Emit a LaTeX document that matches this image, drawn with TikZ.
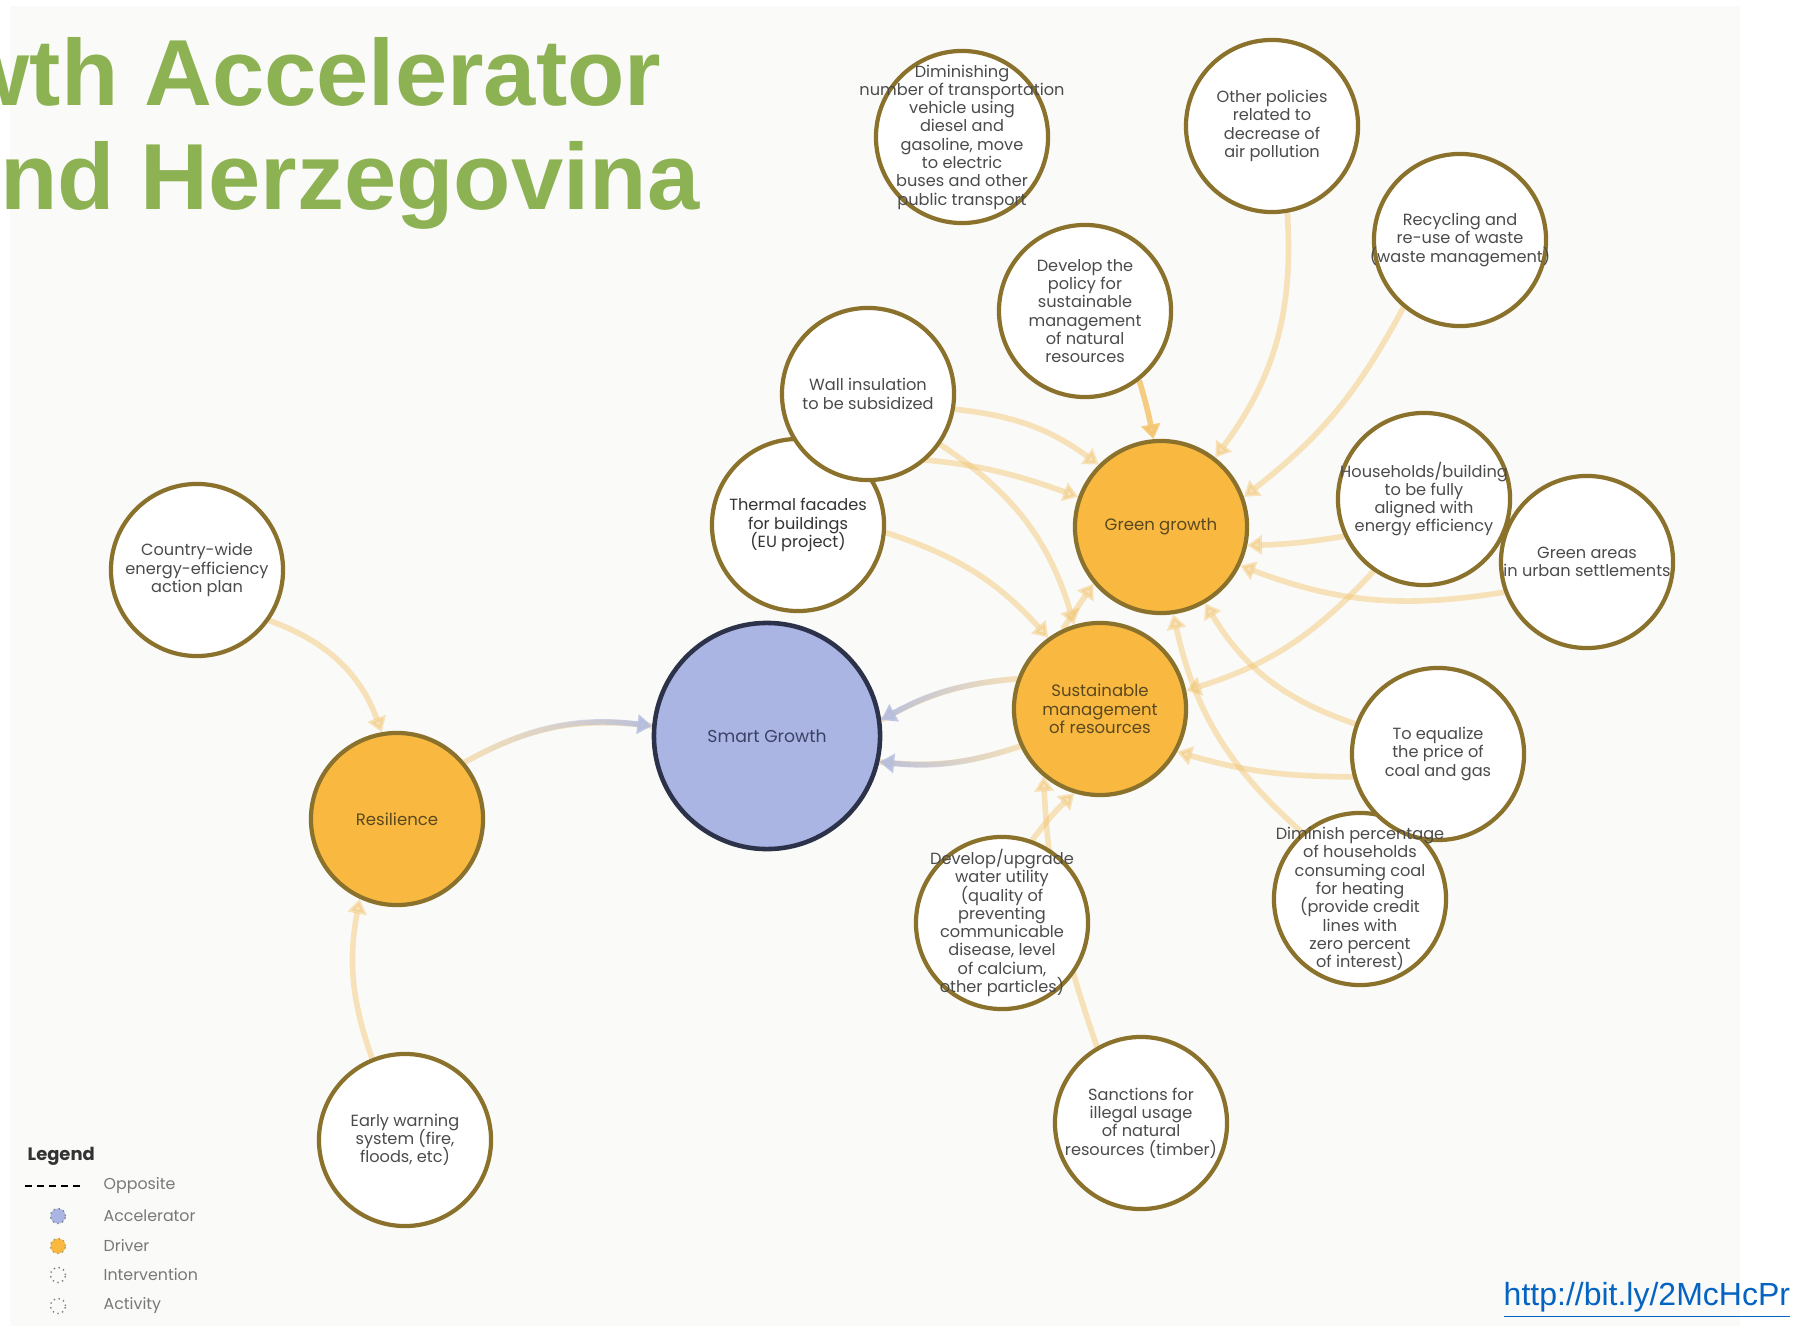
\documentclass[tikz,border=0pt]{standalone}
\usepackage{fontspec}
\setmainfont{Poppins}
\newfontfamily\titlefont{Liberation Sans}
\usetikzlibrary{arrows.meta,fadings}
\newcommand\tightlines{\lineskiplimit=-20pt\relax}
\definecolor{panelbg}{RGB}{250,250,248}
\definecolor{titlegreen}{RGB}{141,178,84}
\definecolor{ringc}{RGB}{139,114,44}
\definecolor{drvfill}{RGB}{249,185,64}
\definecolor{accfill}{RGB}{170,181,228}
\definecolor{accring}{RGB}{45,50,75}
\definecolor{conncol}{RGB}{243,196,110}
\definecolor{blueconn}{RGB}{180,188,222}
\definecolor{txtc}{RGB}{75,75,75}
\definecolor{drvtxt}{RGB}{90,72,30}
\definecolor{acctxt}{RGB}{60,66,100}
\definecolor{urlc}{RGB}{5,99,193}
\definecolor{legtxt}{RGB}{120,120,120}
\definecolor{legtitle}{RGB}{51,51,51}
\pgfdeclarelayer{panel}
\pgfdeclarelayer{edges}
\pgfsetlayers{panel,edges,main}
\tikzset{
  ivn/.style={circle, draw=ringc, line width=1.2pt, fill=white, minimum size=1.72cm, inner sep=0pt},
  drv/.style={circle, draw=ringc, line width=1.2pt, fill=drvfill, minimum size=1.72cm, inner sep=0pt},
  acc/.style={circle, draw=accring, line width=1.3pt, fill=accfill, minimum size=2.26cm, inner sep=0pt},
  itxt/.style={align=center, text=txtc, font=\fontsize{4.6pt}{5.2pt}\selectfont\tightlines, inner sep=0pt},
  dtxt/.style={align=center, text=drvtxt, font=\fontsize{4.7pt}{5.3pt}\selectfont\tightlines, inner sep=0pt},
  atxt/.style={align=center, text=acctxt, font=\fontsize{4.9pt}{5.5pt}\selectfont, inner sep=0pt},
  conn/.style={draw=conncol, opacity=0.45, line width=1.6pt, -{Triangle[width=5.4pt,length=4.2pt]}},
  strongconn/.style={conn, opacity=0.85},
  bconn/.style={draw=blueconn, opacity=0.9, line width=1.6pt, -{Triangle[width=5.4pt,length=4.2pt]}},
  legtext/.style={anchor=west, text=legtxt, font=\fontsize{4.5pt}{5pt}\selectfont, inner sep=0pt},
  legdot/.style={circle, minimum size=0.15cm, inner sep=0pt, line width=0.4pt, densely dotted}
}
\begin{document}
\begin{tikzpicture}[x=0.01cm, y=-0.01cm]
\useasboundingbox (0,0) rectangle (1795,1334);
\begin{pgfonlayer}{panel}
  \fill[white] (0,0) rectangle (1795,1334);
  \fill[panelbg] (10,6) rectangle (1740,1326);
\end{pgfonlayer}

% title
\node[anchor=base east, inner sep=0pt, text=titlegreen, font=\titlefont\bfseries\fontsize{26.7pt}{30pt}\selectfont] (title1) at (662,106) {wth Accelerator};
\node[anchor=base east, inner sep=0pt, text=titlegreen, font=\titlefont\bfseries\fontsize{26.7pt}{30pt}\selectfont] (title2) at (700,210) {nd Herzegovina};

% nodes
\node[ivn] (dimin) at (962,137) {};
\node[ivn] (other) at (1272,126) {};
\node[ivn] (recyc) at (1460,240) {};
\node[ivn] (devpol) at (1085,311) {};
\node[ivn] (thermal) at (798,525) {};
\node[ivn] (wall) at (868,394) {};
\node[drv] (green) at (1161,527) {};
\node[ivn] (garea) at (1587,562) {};
\node[ivn] (house) at (1424,499) {};
\node[ivn] (country) at (197,570) {};
\node[acc] (smart) at (767,736) {};
\node[drv] (sust) at (1100,709) {};
\node[drv] (resil) at (397,819) {};
\node[ivn] (dimperc) at (1360,899) {};
\node[ivn] (equal) at (1438,754) {};
\node[ivn] (water) at (1002,923) {};
\node[ivn] (early) at (405,1140) {};
\node[ivn] (sanct) at (1141,1123) {};

% texts
\node[itxt] (dimin-t) at (dimin) {Diminishing\\number of transportation\\vehicle using\\diesel and\\gasoline, move\\to electric\\buses and other\\public transport};
\node[itxt] (other-t) at (other) {Other policies\\related to\\decrease of\\air pollution};
\node[itxt] (recyc-t) at (recyc) {Recycling and\\re-use of waste\\(waste management)};
\node[itxt] (devpol-t) at (devpol) {Develop the\\policy for\\sustainable\\management\\of natural\\resources};
\node[itxt] (wall-t) at (wall) {Wall insulation\\to be subsidized};
\node[itxt, text=black!80] (thermal-t) at (thermal) {Thermal facades\\for buildings\\(EU project)};
\node[dtxt] (green-t) at (green) {Green growth};
\node[itxt] (house-t) at (house) {Households/building\\to be fully\\aligned with\\energy efficiency};
\node[itxt] (garea-t) at (garea) {Green areas\\in urban settlements};
\node[itxt] (country-t) at (country) {Country-wide\\energy-efficiency\\action plan};
\node[atxt] (smart-t) at (smart) {Smart Growth};
\node[dtxt] (sust-t) at (sust) {Sustainable\\management\\of resources};
\node[dtxt] (resil-t) at (resil) {Resilience};
\node[itxt] (equal-t) at (equal) {To equalize\\the price of\\coal and gas};
\node[itxt] (dimperc-t) at (dimperc) {Diminish percentage\\of households\\consuming coal\\for heating\\(provide credit\\lines with\\zero percent\\of interest)};
\node[itxt] (water-t) at (water) {Develop/upgrade\\water utility\\(quality of\\preventing\\communicable\\disease, level\\of calcium,\\other particles)};
\node[itxt] (early-t) at (early) {Early warning\\system (fire,\\floods, etc)};
\node[itxt] (sanct-t) at (sanct) {Sanctions for\\illegal usage\\of natural\\resources (timber)};

% connectors
\begin{pgfonlayer}{edges}
  \draw[conn] (country.-35) to[bend left=25] (resil.100);
  \draw[conn] (early.112) to[bend left=15] (resil.245);
  \draw[conn, -] (resil.40) to[bend left=18] (smart.175);
  \draw[bconn, path fading=west] (resil.40) to[bend left=18] (smart.175);

  \draw[conn, -] (sust.160) to[bend right=12] (smart.8);
  \draw[bconn, path fading=east] (sust.160) to[bend right=12] (smart.8);
  \draw[conn, -] (sust.205) to[bend left=12] (smart.-13);
  \draw[bconn, path fading=east] (sust.205) to[bend left=12] (smart.-13);

  \draw[strongconn] (devpol.-52) to[bend left=3] (green.95);
  \draw[conn] (other.-80) to[bend left=20] (green.52);
  \draw[conn] (recyc.-130) to[bend left=12] (green.20);
  \draw[conn] (house.205) to[bend left=4] (green.-12);
  \draw[conn] (garea.200) to[bend left=15] (green.-26);
  \draw[conn] (wall.-10) to[bend left=15] (green.135);
  \draw[conn] (thermal.50) to[bend left=10] (green.160);
  \draw[conn] (equal.160) to[bend left=20] (green.-60);
  \draw[conn] (dimperc.131) to[bend left=18] (green.-82);
  \draw[conn] (sust.115) to (green.-140);

  \draw[conn] (thermal.-5) to[bend left=15] (sust.126);
  \draw[conn] (wall.-35) to[bend left=20] (sust.107);
  \draw[conn] (house.235) to[bend left=15] (sust.12);
  \draw[conn] (equal.195) to[bend left=8] (sust.-29);
  \draw[conn] (water.70) to[bend left=5] (sust.-107);
  \draw[conn] (sanct.120) to[bend left=8] (sust.-130);
\end{pgfonlayer}

% legend
\node[anchor=base west, inner sep=0pt, text=legtitle, font=\fontsize{5.1pt}{6pt}\selectfont\bfseries] (legtitle) at (27,1160) {Legend};
\coordinate (dashA) at (25,1186);
\coordinate (dashB) at (84,1186);
\draw[black, line width=0.45pt, dash pattern=on 2pt off 1.4pt] (dashA) -- (dashB);
\node[legtext] (leg1) at (103,1186) {Opposite};
\node[legdot, fill=accfill, draw=accring!60] (ldot2) at (58,1216) {};
\node[legtext] (leg2) at (103,1216) {Accelerator};
\node[legdot, fill=drvfill, draw=ringc!70] (ldot3) at (58,1246) {};
\node[legtext] (leg3) at (103,1246) {Driver};
\node[legdot, draw=black!50] (ldot4) at (58,1275) {};
\node[legtext] (leg4) at (103,1275) {Intervention};
\node[legdot, draw=black!50] (ldot5) at (58,1306) {};
\node[legtext] (leg5) at (103,1306) {Activity};

% url
\node[anchor=base west, inner sep=0pt, text=urlc, font=\titlefont\fontsize{9.1pt}{11pt}\selectfont] (url) at (1503,1305) {\underline{http://bit.ly/2McHcPr}};
\end{tikzpicture}
\end{document}
